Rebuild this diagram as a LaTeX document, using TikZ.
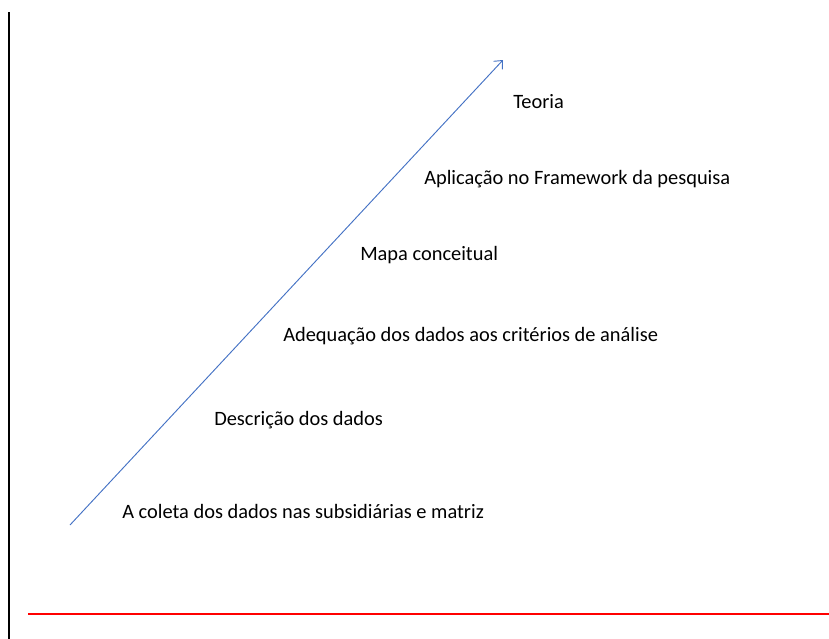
\documentclass[tikz,border=0pt]{standalone}
\usepackage{fontspec}
\setmainfont{Carlito}
\usetikzlibrary{arrows,arrows.meta,calc}
\definecolor{officeblue}{RGB}{68,114,196}

\begin{document}
\begin{tikzpicture}[x=0.75pt, y=-0.75pt, every node/.style={anchor=base west, inner sep=0pt, font=\fontsize{15.3}{18}\selectfont}]
  \useasboundingbox (0,0) rectangle (829,639);

  \coordinate (TopLeft) at (9,12);
  \coordinate (BottomLeft) at (9,639);
  \draw[line width=1.6pt, black] (TopLeft)--(BottomLeft);

  \coordinate (RedStart) at (28,614);
  \coordinate (RedEnd) at (829,614);
  \draw[line width=1.6pt, red] (RedStart)--(RedEnd);

  \coordinate (ArrowStart) at (70,525);
  \coordinate (ArrowEnd) at (503,60);
  \draw[-{Straight Barb[length=5pt,width=9pt]}, officeblue, line width=0.7pt] (ArrowStart)--(ArrowEnd);

  \node (coleta) at (122,518) {A coleta dos dados nas subsidiárias e matriz};
  \node (descricao) at (214,425) {Descrição dos dados};
  \node (adequacao) at (283,341) {Adequação dos dados aos critérios de análise};
  \node (mapa) at (360,260) {Mapa conceitual};
  \node (aplicacao) at (424,184) {Aplicação no Framework da pesquisa};
  \node (teoria) at (513,108) {Teoria};

\end{tikzpicture}
\end{document}
